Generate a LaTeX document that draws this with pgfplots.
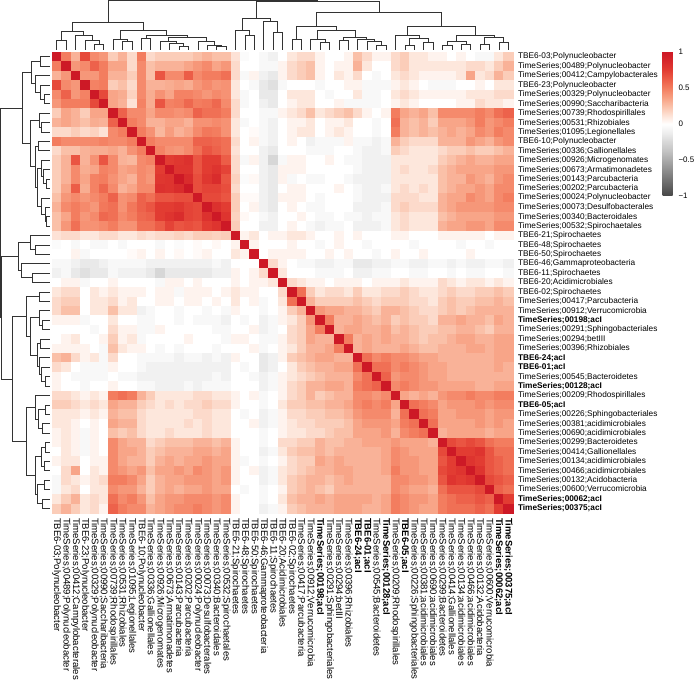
\documentclass[border=0pt]{standalone}
\usepackage{pgfplots}
\pgfplotsset{compat=1.18}
\usepackage{pgfplotstable}
\usepackage{fontspec}
\setmainfont{Liberation Sans}
\newcommand\rowf{\fontsize{8.3}{9.4}\selectfont}
\newcommand\colf{\fontsize{9.6}{10.8}\selectfont}
\newcommand\cbf{\fontsize{8}{9}\selectfont}

% correlation matrix x 100, rows 1..49 (top to bottom), columns c1..c49 (left to right)
\pgfplotstableread{
c1 c2 c3 c4 c5 c6 c7 c8 c9 c10 c11 c12 c13 c14 c15 c16 c17 c18 c19 c20 c21 c22 c23 c24 c25 c26 c27 c28 c29 c30 c31 c32 c33 c34 c35 c36 c37 c38 c39 c40 c41 c42 c43 c44 c45 c46 c47 c48 c49
100 50 30 70 45 40 20 30 15 50 15 20 20 20 20 25 30 25 25 12 -3 0 -5 -10 0 10 15 15 5 0 0 5 25 15 5 5 15 20 10 10 5 5 0 5 0 -5 -5 10 20
50 100 40 45 60 50 35 35 15 45 25 30 30 30 35 40 45 35 40 15 0 0 -5 -5 5 15 20 25 5 0 5 5 30 10 0 0 15 20 10 10 10 10 10 10 15 15 10 20 30
30 40 100 40 40 50 30 30 20 45 25 65 45 45 62 45 50 50 55 15 -5 5 -10 -15 5 15 20 25 5 0 10 5 15 0 -5 0 10 15 10 5 5 5 5 10 35 10 15 30 20
70 45 40 100 48 50 20 25 15 45 30 30 32 35 32 40 45 40 42 10 0 -5 -15 -20 -5 0 0 0 -5 0 0 5 5 -5 -5 -5 5 10 5 0 -5 -5 -5 0 0 5 0 10 10
45 60 40 48 100 70 35 32 18 45 32 42 35 48 48 45 40 45 42 10 -5 0 -15 -15 0 10 10 10 0 -5 0 0 10 -5 -5 0 10 15 10 5 5 5 5 5 10 10 10 15 15
40 50 50 50 70 100 35 30 12 48 32 65 48 50 58 50 52 58 45 15 -5 0 -10 -15 0 5 10 10 0 0 5 -5 -5 -5 -5 0 5 10 5 0 0 0 0 5 5 15 10 10 5
20 35 30 20 35 35 100 60 45 45 35 45 45 42 45 60 55 55 50 15 0 0 -5 -5 5 10 15 25 10 15 20 25 15 5 0 5 50 35 30 35 25 45 45 45 45 50 45 55 60
30 35 30 25 32 30 60 100 50 45 30 30 35 35 30 42 42 45 42 10 -5 0 -5 -10 0 5 5 10 0 5 5 10 0 0 -5 0 55 30 25 30 20 35 35 35 40 50 40 45 50
15 15 20 15 18 12 45 50 100 50 42 28 38 30 35 45 52 50 42 10 0 2 -5 -10 0 5 10 10 0 5 10 5 0 0 -5 0 50 30 25 30 25 30 35 30 35 45 40 50 45
50 45 45 45 45 48 45 45 50 100 50 45 45 45 45 60 60 58 55 15 0 5 -5 -10 0 5 0 -10 -5 -5 -5 5 -5 -5 -10 -5 30 20 15 15 15 30 30 30 40 35 30 40 45
15 25 25 30 32 32 35 30 42 50 100 48 42 40 45 55 65 60 55 12 0 0 -10 -15 0 0 0 -5 -5 -5 0 0 -5 -10 -10 -5 20 15 10 10 10 15 20 20 25 20 20 25 30
20 30 65 30 42 65 45 30 28 45 48 100 75 78 82 65 75 75 62 15 -5 5 -10 -25 -5 5 5 0 0 5 0 -5 -5 -10 -10 -10 10 10 10 10 10 20 25 30 35 30 30 35 35
20 30 45 32 35 48 45 35 38 45 42 75 100 80 80 65 75 80 72 15 0 0 -10 -15 5 5 5 0 0 0 0 0 -5 -10 -10 -10 10 15 10 10 15 25 30 35 35 35 35 40 40
20 30 45 35 48 50 42 35 30 45 40 78 80 100 85 68 78 85 65 18 -3 3 -10 -15 5 -5 0 -5 -5 0 0 -5 -10 -10 -10 -10 10 10 10 10 10 25 30 30 40 35 30 40 45
20 35 62 32 48 58 45 30 35 45 45 82 80 85 100 68 72 72 68 15 0 0 -10 -15 0 5 5 0 0 0 5 0 -5 -10 -10 -5 10 15 10 15 10 25 30 35 35 40 35 45 45
25 40 45 40 45 50 60 42 45 60 55 65 65 68 68 100 70 70 65 20 2 2 -10 -15 5 5 5 0 -5 0 0 0 -5 -10 -10 -10 15 15 15 10 10 30 35 35 45 40 35 45 50
30 45 50 45 40 52 55 42 52 60 65 75 75 78 72 70 100 82 75 20 0 5 -10 -15 0 5 0 -5 -5 0 0 0 -10 -10 -10 -5 15 20 15 15 15 30 35 40 40 40 40 45 45
25 35 50 40 45 58 55 45 50 58 60 75 80 85 72 70 82 100 80 18 3 0 -5 -10 0 0 5 0 -5 -5 0 -5 -5 -10 -5 -5 10 15 10 10 10 25 30 35 35 35 35 40 40
25 40 55 42 42 45 50 42 42 55 55 62 72 65 68 65 75 80 100 20 0 0 -10 -10 0 5 0 -5 -10 -5 -5 0 -10 -10 -10 -5 10 15 10 10 10 30 35 35 40 40 35 45 45
12 15 15 10 10 15 15 10 10 15 12 15 15 18 15 20 20 18 20 100 5 10 0 5 5 10 10 5 0 0 5 0 5 0 0 0 5 5 0 0 0 5 5 5 5 5 0 5 5
-3 0 -5 0 -5 -5 0 -5 0 0 0 -5 0 -3 0 2 0 3 0 5 100 5 0 0 0 5 0 0 -5 0 5 0 0 -5 0 0 0 0 -5 0 0 0 0 -5 0 0 -5 0 0
0 0 5 -5 0 0 0 0 2 5 0 5 0 3 0 2 5 0 0 10 5 100 0 5 5 5 5 0 0 5 0 5 0 0 -5 0 5 0 0 5 0 0 0 0 5 0 0 0 0
-5 -5 -10 -15 -15 -10 -5 -5 -5 -5 -10 -10 -10 -10 -10 -10 -10 -5 -10 0 0 0 100 15 5 0 -5 -5 -10 -10 -5 -5 -15 -15 -10 -10 -5 -5 -10 -10 -5 -5 -10 -5 -10 -10 -5 -5 -10
-10 -5 -15 -20 -15 -15 -5 -10 -10 -10 -15 -25 -15 -15 -15 -15 -15 -10 -10 5 0 5 15 100 10 0 0 0 -5 -5 -5 0 -10 -10 -5 -5 0 0 -5 -5 0 0 -5 0 -5 -5 0 0 -5
0 5 5 -5 0 0 5 0 0 0 0 -5 5 5 0 5 0 0 0 5 0 5 5 10 100 15 10 5 5 0 5 5 5 0 5 5 5 10 5 5 5 15 10 5 10 10 5 10 5
10 15 15 0 10 5 10 5 5 5 0 5 5 -5 5 5 5 0 5 10 5 5 0 0 15 100 55 20 10 15 15 10 20 10 10 15 15 20 15 10 10 15 20 15 15 20 20 25 20
15 20 20 0 10 10 15 5 10 0 0 5 5 0 5 5 0 5 0 10 0 5 -5 0 10 55 100 30 20 20 20 20 25 20 15 20 20 20 15 15 10 20 25 20 20 25 25 30 25
15 25 25 0 10 10 25 10 10 -10 -5 0 0 -5 0 0 -5 0 -5 5 0 0 -5 0 5 20 30 100 40 35 35 30 30 25 20 30 30 25 20 15 15 20 25 20 25 30 30 30 30
5 5 5 -5 0 0 10 0 0 -5 -5 0 0 -5 0 -5 -5 -5 -10 0 -5 0 -10 -5 5 10 20 40 100 50 30 30 35 30 25 30 20 25 20 20 15 30 30 35 30 30 25 35 30
0 0 0 0 -5 0 15 5 5 -5 -5 5 0 0 0 0 0 -5 -5 0 0 5 -10 -5 0 15 20 35 50 100 30 35 35 30 30 35 25 30 25 20 20 25 25 30 30 25 20 30 30
0 5 10 0 0 5 20 5 10 -5 0 0 0 0 5 0 0 0 -5 5 5 0 -5 -5 5 15 20 35 30 30 100 50 30 35 30 35 30 30 25 20 25 25 30 35 35 30 30 35 35
5 5 5 5 0 -5 25 10 5 5 0 -5 0 -5 0 0 0 -5 0 0 0 5 -5 0 5 10 20 30 30 35 50 100 30 35 30 30 30 35 30 25 25 30 30 30 35 35 30 35 35
25 30 15 5 10 -5 15 0 0 -5 -5 -5 -5 -10 -5 -5 -10 -5 -10 5 0 0 -15 -10 5 20 25 30 35 35 30 30 100 55 45 50 45 45 40 35 35 30 30 30 30 30 30 35 35
15 10 0 -5 -5 -5 5 0 0 -5 -10 -10 -10 -10 -10 -10 -10 -10 -10 0 -5 0 -15 -10 0 10 20 25 30 30 35 35 55 100 55 55 45 50 45 40 35 35 30 30 30 30 30 35 30
5 0 -5 -5 -5 -5 0 -5 -5 -10 -10 -10 -10 -10 -10 -10 -10 -5 -10 0 0 -5 -10 -5 5 10 15 20 25 30 30 30 45 55 100 60 40 45 45 40 35 35 30 30 30 30 30 30 30
5 0 0 -5 0 0 5 0 0 -5 -5 -10 -10 -10 -5 -10 -5 -5 -5 0 0 0 -10 -5 5 15 20 30 30 35 35 30 50 55 60 100 45 50 45 40 40 35 35 35 35 30 30 35 35
15 15 10 5 10 5 50 55 50 30 20 10 10 10 10 15 15 10 10 5 0 5 -5 0 5 15 20 30 20 25 30 30 45 45 40 45 100 35 30 35 30 40 45 45 50 45 45 50 50
20 20 15 10 15 10 35 30 30 20 15 10 15 10 15 15 20 15 15 5 0 0 -5 0 10 20 20 25 25 30 30 35 45 50 45 50 35 100 55 50 45 35 40 40 40 45 40 45 45
10 10 10 5 10 5 30 25 25 15 10 10 10 10 10 15 15 10 10 0 -5 0 -10 -5 5 15 15 20 20 25 25 30 40 45 45 45 30 55 100 55 50 35 35 40 40 40 35 40 40
10 10 5 0 5 0 35 30 30 15 10 10 10 10 15 10 15 10 10 0 0 5 -10 -5 5 10 15 15 20 20 20 25 35 40 40 40 35 50 55 100 55 35 35 35 35 40 35 40 35
5 10 5 -5 5 0 25 20 25 15 10 10 15 10 10 10 15 10 10 0 0 0 -5 0 5 10 10 15 15 20 25 25 35 35 35 40 30 45 50 55 100 30 35 35 35 35 30 35 35
5 10 5 -5 5 0 45 35 30 30 15 20 25 25 25 30 30 25 30 5 0 0 -5 0 15 15 20 20 30 25 25 30 30 35 35 35 40 35 35 35 30 100 70 65 70 65 55 50 50
0 10 5 -5 5 0 45 35 35 30 20 25 30 30 30 35 35 30 35 5 0 0 -10 -5 10 20 25 25 30 25 30 30 30 30 30 35 45 40 35 35 35 70 100 75 75 80 65 55 55
5 10 10 0 5 5 45 35 30 30 20 30 35 30 35 35 40 35 35 5 -5 0 -5 0 5 15 20 20 35 30 35 30 30 30 30 35 45 40 40 35 35 65 75 100 80 75 65 60 55
0 15 35 0 10 5 45 40 35 40 25 35 35 40 35 45 40 35 40 5 0 5 -10 -5 10 15 20 25 30 30 35 35 30 30 30 35 50 40 40 35 35 70 75 80 100 80 65 60 55
-5 15 10 5 10 15 50 50 45 35 20 30 35 35 40 40 40 35 40 5 0 0 -10 -5 10 20 25 30 30 25 30 35 30 30 30 30 45 45 40 40 35 65 80 75 80 100 70 65 60
-5 10 15 0 10 10 45 40 40 30 20 30 35 30 35 35 40 35 35 0 -5 0 -5 0 5 20 25 30 25 20 30 30 30 30 30 30 45 40 35 35 30 55 65 65 65 70 100 60 55
10 20 30 10 15 10 55 45 50 40 25 35 40 40 45 45 45 40 45 5 0 0 -5 0 10 25 30 30 35 30 35 35 35 35 30 35 50 45 40 40 35 50 55 60 60 65 60 100 75
20 30 20 10 15 5 60 50 45 45 30 35 40 45 45 50 45 40 45 5 0 0 -10 -5 5 20 25 30 30 30 35 35 35 30 30 35 50 45 40 35 35 50 55 55 55 60 55 75 100
}\corr

% dendrogram merges: leaf position p, height h (nan rows separate the brackets)
\pgfplotstableread{
p h
1 0
1 9.3
2 9.3
2 0
nan nan
5 0
5 6
6 6
6 0
nan nan
4 0
4 9.3
5.5 9.3
5.5 6
nan nan
3 0
3 15
4.75 15
4.75 9.3
nan nan
1.5 9.3
1.5 18.3
3.875 18.3
3.875 15
nan nan
8 0
8 8.3
9 8.3
9 0
nan nan
7 0
7 10.7
8.5 10.7
8.5 8.3
nan nan
10 0
10 11.7
11 11.7
11 0
nan nan
14 0
14 3.3
15 3.3
15 0
nan nan
13 0
13 6.7
14.5 6.7
14.5 3.3
nan nan
12 0
12 8.3
13.75 8.3
13.75 6.7
nan nan
18 0
18 3.3
19 3.3
19 0
nan nan
17 0
17 5
18.5 5
18.5 3.3
nan nan
16 0
16 8.3
17.75 8.3
17.75 5
nan nan
12.875 8.3
12.875 12.7
16.875 12.7
16.875 8.3
nan nan
10.5 11.7
10.5 15
14.875 15
14.875 12.7
nan nan
7.75 10.7
7.75 20
12.6875 20
12.6875 15
nan nan
2.6875 18.3
2.6875 27.3
10.21875 27.3
10.21875 20
nan nan
21 0
21 15
22 15
22 0
nan nan
20 0
20 20
21.5 20
21.5 15
nan nan
24 0
24 17.3
25 17.3
25 0
nan nan
23 0
23 28.3
24.5 28.3
24.5 17.3
nan nan
20.75 20
20.75 31.7
23.75 31.7
23.75 28.3
nan nan
26 0
26 10.7
27 10.7
27 0
nan nan
29 0
29 7.3
30 7.3
30 0
nan nan
28 0
28 10.7
29.5 10.7
29.5 7.3
nan nan
31 0
31 9.3
32 9.3
32 0
nan nan
35 0
35 5
36 5
36 0
nan nan
34 0
34 8.3
35.5 8.3
35.5 5
nan nan
33 0
33 10.7
34.75 10.7
34.75 8.3
nan nan
31.5 9.3
31.5 12.7
33.875 12.7
33.875 10.7
nan nan
28.75 10.7
28.75 20
32.6875 20
32.6875 12.7
nan nan
26.5 10.7
26.5 23.3
30.71875 23.3
30.71875 20
nan nan
38 0
38 5
39 5
39 0
nan nan
40 0
40 8
41 8
41 0
nan nan
38.5 5
38.5 12
40.5 12
40.5 8
nan nan
37 0
37 15
39.5 15
39.5 12
nan nan
42 0
42 4.3
43 4.3
43 0
nan nan
44 0
44 6
45 6
45 0
nan nan
42.5 4.3
42.5 8.3
44.5 8.3
44.5 6
nan nan
46 0
46 6
47 6
47 0
nan nan
48 0
48 8
49 8
49 0
nan nan
46.5 6
46.5 12.7
48.5 12.7
48.5 8
nan nan
43.5 8.3
43.5 15
47.5 15
47.5 12.7
nan nan
38.25 15
38.25 24
45.5 24
45.5 15
nan nan
28.609 23.3
28.609 37.3
41.875 37.3
41.875 24
nan nan
22.25 31.7
22.25 48.5
35.242 48.5
35.242 37.3
nan nan
6.453 27.3
6.453 49.5
28.746 49.5
28.746 48.5
}\tree

\def\lablist{TBE6-03;Polynucleobacter,
TimeSeries;00489;Polynucleobacter,
TimeSeries;00412;Campylobacterales,
TBE6-23;Polynucleobacter,
TimeSeries;00329;Polynucleobacter,
TimeSeries;00990;Saccharibacteria,
TimeSeries;00739;Rhodospirillales,
TimeSeries;00531;Rhizobiales,
TimeSeries;01095;Legionellales,
TBE6-10;Polynucleobacter,
TimeSeries;00336;Gallionellales,
TimeSeries;00926;Microgenomates,
TimeSeries;00673;Armatimonadetes,
TimeSeries;00143;Parcubacteria,
TimeSeries;00202;Parcubacteria,
TimeSeries;00024;Polynucleobacter,
TimeSeries;00073;Desulfobacterales,
TimeSeries;00340;Bacteroidales,
TimeSeries;00532;Spirochaetales,
TBE6-21;Spirochaetes,
TBE6-48;Spirochaetes,
TBE6-50;Spirochaetes,
TBE6-46;Gammaproteobacteria,
TBE6-11;Spirochaetes,
TBE6-20;Acidimicrobiales,
TBE6-02;Spirochaetes,
TimeSeries;00417;Parcubacteria,
TimeSeries;00912;Verrucomicrobia,
\textbf{TimeSeries;00198;acI},
TimeSeries;00291;Sphingobacteriales,
TimeSeries;00294;betIII,
TimeSeries;00396;Rhizobiales,
\textbf{TBE6-24;acI},
\textbf{TBE6-01;acI},
TimeSeries;00545;Bacteroidetes,
\textbf{TimeSeries;00128;acI},
TimeSeries;00209;Rhodospirillales,
\textbf{TBE6-05;acI},
TimeSeries;00226;Sphingobacteriales,
TimeSeries;00381;acidimicrobiales,
TimeSeries;00690;acidimicrobiales,
TimeSeries;00299;Bacteroidetes,
TimeSeries;00414;Gallionellales,
TimeSeries;00134;acidimicrobiales,
TimeSeries;00466;acidimicrobiales,
TimeSeries;00132;Acidobacteria,
TimeSeries;00600;Verrucomicrobia,
\textbf{TimeSeries;00062;acI},
\textbf{TimeSeries;00375;acI}}

\begin{document}
\begin{tikzpicture}
% ---------------- heatmap ----------------
\begin{axis}[
  name=main,
  at={(52bp,177bp)}, anchor=south west,
  width=461bp, height=461bp, scale only axis,
  xmin=0.5, xmax=49.5, ymin=0.5, ymax=49.5, y dir=reverse,
  axis line style={draw=none}, major tick length=0pt,
  xtick={1,...,49}, ytick={1,...,49},
  xticklabels/.expand once=\lablist,
  yticklabels/.expand once=\lablist,
  yticklabel pos=right,
  yticklabel style={font=\rowf, anchor=west, xshift=1.5bp},
  xticklabel style={font=\colf, rotate=-90, anchor=west, xshift=1.5bp},
  colormap={hm}{rgb255=(70,70,70) rgb255=(95,95,95) rgb255=(120,120,120) rgb255=(145,145,145) rgb255=(170,170,170) rgb255=(195,195,195) rgb255=(215,215,215) rgb255=(237,237,237) rgb255=(255,255,255) rgb255=(253,225,212) rgb255=(250,192,168) rgb255=(247,158,128) rgb255=(243,125,95) rgb255=(236,92,70) rgb255=(226,60,50) rgb255=(215,40,43) rgb255=(205,25,38)},
  point meta min=-100, point meta max=100,
  colorbar,
  colorbar style={
    at={(parent axis.north east)}, anchor=north west, xshift=141bp,
    scale only axis, width=10bp, height=144bp,
    y dir=normal,
    xtick=\empty,
    ytick={-100,-50,0,50,100},
    yticklabels={−1,−0.5,0,0.5,1},
    yticklabel pos=right,
    yticklabel style={font=\cbf, anchor=west, rotate=0, xshift=2.5bp},
    axis line style={draw=none}, major tick length=0pt,
  },
]
\pgfplotsinvokeforeach{1,...,49}{
  \addplot[scatter, only marks, mark=square*, mark size=4.6bp,
    mark options={line width=0.4bp},
    scatter/use mapped color={draw=mapped color, fill=mapped color},
    point meta=explicit]
    table[x expr=#1, y expr=\coordindex+1, meta=c#1] {\corr};
}
\end{axis}

% ---------------- top dendrogram ----------------
\begin{axis}[
  at={(52bp,640bp)}, anchor=south west,
  width=461bp, height=50bp, scale only axis,
  xmin=0.5, xmax=49.5, ymin=0, ymax=50,
  hide axis, clip=false]
\addplot[black!80, line width=0.6bp, unbounded coords=jump] table[x=p, y=h] {\tree};
\end{axis}

% ---------------- left dendrogram ----------------
\begin{axis}[
  at={(0bp,177bp)}, anchor=south west,
  width=50bp, height=461bp, scale only axis,
  xmin=0, xmax=50, x dir=reverse,
  ymin=0.5, ymax=49.5, y dir=reverse,
  hide axis, clip=false]
\addplot[black!80, line width=0.6bp, unbounded coords=jump] table[x=h, y=p] {\tree};
\end{axis}

\pgfresetboundingbox
\path[use as bounding box] (0,0) rectangle (694bp,690bp);
\end{tikzpicture}
\end{document}
